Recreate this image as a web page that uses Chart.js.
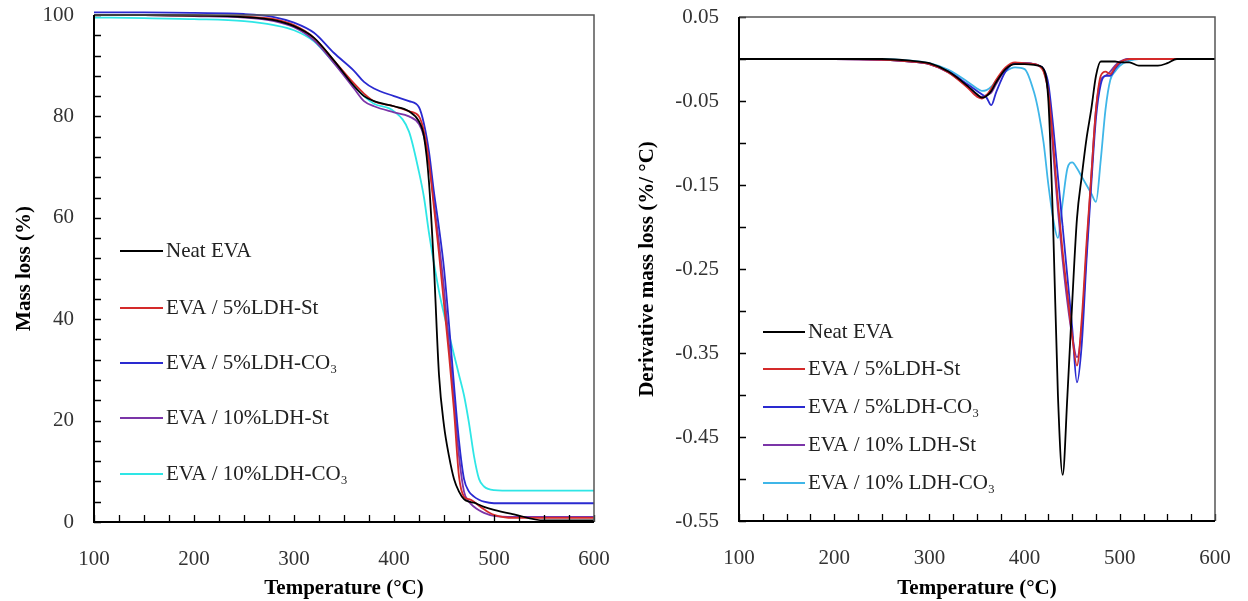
<!DOCTYPE html>
<html>
<head>
<meta charset="utf-8">
<script src="https://cdn.jsdelivr.net/npm/chart.js@4.4.1/dist/chart.umd.min.js"></script>
<style>
  body { margin: 0; background: #fff; }
  #tga { position: absolute; left: 0; top: 0; }
  #dtg { position: absolute; left: 620px; top: 0; }
</style>
</head>
<body>
<canvas id="tga" width="620" height="601"></canvas>
<canvas id="dtg" width="628" height="601"></canvas>
<script>
// DATA
const tgaLabels = ['Neat EVA', 'EVA / 5%LDH-St', 'EVA / 5%LDH-CO₃', 'EVA / 10%LDH-St', 'EVA / 10%LDH-CO₃'];
const dtgLabels = ['Neat EVA', 'EVA / 5%LDH-St', 'EVA / 5%LDH-CO₃', 'EVA / 10% LDH-St', 'EVA / 10% LDH-CO₃'];

// mass loss (%) vs temperature (°C)
const tgaTemp  = [100, 150, 200, 250, 280, 300, 320, 340, 360, 370, 380, 400, 415, 425, 430, 435, 440, 445, 450, 455, 460, 465, 470, 475, 480, 485, 490, 500, 520, 550, 600];
const tgaNeat  = [100, 100, 99.9, 99.6, 99.0, 97.8, 95.5, 91, 86, 84, 83, 82, 81, 79, 76, 67, 50, 29, 19, 13, 8.5, 6, 4.5, 4, 3.8, 3.4, 3, 2.4, 1.5, 0.3, 0.3];
const tgaSt5   = [100, 100, 99.9, 99.7, 99.2, 98, 95.5, 91, 86.5, 84.5, 83, 82, 81, 80, 77, 71, 62, 53, 43, 33, 22, 9, 5, 4.5, 4, 3.2, 2.5, 1.4, 0.8, 0.8, 0.8];
const tgaCo5   = [100.5, 100.5, 100.4, 100.2, 99.6, 98.5, 96.5, 92.5, 89, 86.8, 85.5, 84, 83, 81.8, 78.5, 73, 65, 58, 50, 39, 27, 16, 8.5, 6, 5, 4.4, 4, 3.7, 3.7, 3.7, 3.7];
const tgaSt10  = [100, 100, 99.8, 99.5, 98.8, 97.6, 95, 90.5, 85.5, 83, 82, 80.8, 80, 78.5, 76, 71, 63, 55, 46, 35, 24, 13, 6, 4, 3, 2.3, 1.8, 1.2, 1, 1, 1];
const tgaCo10  = [99.5, 99.4, 99.2, 98.8, 98, 97, 94.8, 90.5, 86, 84, 82.5, 81, 77, 69, 64, 57, 51, 45.5, 41, 37, 33, 29, 25, 19.5, 13, 8.5, 7, 6.3, 6.2, 6.2, 6.2];

// derivative mass loss (%/°C) vs temperature (°C)
const dtgTemp  = [100, 200, 250, 280, 300, 320, 340, 350, 355, 360, 365, 370, 380, 390, 400, 410, 415, 420, 425, 430, 435, 440, 445, 450, 455, 460, 465, 470, 475, 480, 485, 490, 495, 500, 510, 520, 540, 550, 560, 600];
const dtgNeat  = [0, 0, 0, -0.002, -0.005, -0.015, -0.032, -0.042, -0.046, -0.044, -0.038, -0.028, -0.012, -0.006, -0.006, -0.007, -0.008, -0.012, -0.05, -0.2, -0.4, -0.495, -0.40, -0.29, -0.19, -0.14, -0.095, -0.06, -0.02, -0.003, -0.003, -0.003, -0.003, -0.004, -0.004, -0.008, -0.008, -0.005, 0, 0];
const dtgSt5   = [0, 0, -0.001, -0.003, -0.006, -0.016, -0.034, -0.045, -0.047, -0.043, -0.035, -0.025, -0.01, -0.004, -0.005, -0.006, -0.008, -0.015, -0.04, -0.1, -0.17, -0.23, -0.28, -0.33, -0.365, -0.31, -0.22, -0.14, -0.06, -0.02, -0.015, -0.018, -0.01, -0.004, 0, 0, 0, 0, 0, 0];
const dtgCo5   = [0, 0, -0.001, -0.003, -0.006, -0.015, -0.03, -0.038, -0.042, -0.046, -0.055, -0.04, -0.015, -0.005, -0.005, -0.006, -0.008, -0.012, -0.03, -0.08, -0.14, -0.2, -0.26, -0.32, -0.385, -0.34, -0.24, -0.15, -0.07, -0.03, -0.02, -0.02, -0.012, -0.005, 0, 0, 0, 0, 0, 0];
const dtgSt10  = [0, 0, -0.001, -0.003, -0.006, -0.016, -0.033, -0.043, -0.045, -0.043, -0.04, -0.03, -0.012, -0.005, -0.005, -0.006, -0.008, -0.014, -0.04, -0.11, -0.18, -0.24, -0.29, -0.33, -0.355, -0.32, -0.23, -0.14, -0.06, -0.025, -0.02, -0.015, -0.008, -0.003, 0, 0, 0, 0, 0, 0];
const dtgCo10  = [0, 0, 0, -0.002, -0.005, -0.013, -0.027, -0.035, -0.038, -0.037, -0.033, -0.026, -0.015, -0.01, -0.012, -0.04, -0.065, -0.1, -0.15, -0.19, -0.213, -0.17, -0.13, -0.123, -0.13, -0.14, -0.15, -0.16, -0.17, -0.12, -0.06, -0.025, -0.015, -0.008, -0.002, 0, 0, 0, 0, 0];

const dtgTicks = [-0.55, -0.5, -0.45, -0.4, -0.35, -0.3, -0.25, -0.2, -0.15, -0.1, -0.05, 0, 0.05];

const tgaColors = ['#000000', '#d42a2a', '#2a2ad0', '#7b35a8', '#2ee6e6'];
const dtgColors = ['#000000', '#d42a2a', '#2a2ad0', '#7b35a8', '#3fb6e8'];

//------------------------------------------------------------------------
Chart.defaults.font.family = '"Liberation Serif", "Times New Roman", serif';
Chart.defaults.font.size = 21;

// inward tick marks + box frame
const frameTicks = {
  id: 'frameTicks',
  afterDraw(chart) {
    const {ctx, chartArea: a, scales} = chart;
    ctx.save();
    ctx.strokeStyle = '#000';
    ctx.lineWidth = 1.3;
    ctx.beginPath();
    for (const t of scales.x.ticks) {
      const px = Math.round(scales.x.getPixelForValue(t.value)) + 0.5;
      ctx.moveTo(px, a.bottom);
      ctx.lineTo(px, a.bottom - 7);
    }
    for (const t of scales.y.ticks) {
      const py = Math.round(scales.y.getPixelForValue(t.value)) + 0.5;
      ctx.moveTo(a.left, py);
      ctx.lineTo(a.left + 7, py);
    }
    ctx.stroke();
    ctx.strokeStyle = '#555';
    ctx.lineWidth = 1.5;
    ctx.beginPath();
    ctx.moveTo(a.left, a.top);
    ctx.lineTo(a.right, a.top);
    ctx.lineTo(a.right, a.bottom);
    ctx.stroke();
    ctx.strokeStyle = '#000';
    ctx.lineWidth = 2;
    ctx.beginPath();
    ctx.moveTo(a.left, a.top);
    ctx.lineTo(a.left, a.bottom);
    ctx.lineTo(a.right, a.bottom);
    ctx.stroke();
    ctx.restore();
  }
};

// legend drawn inside the plot
const innerLegend = {
  id: 'innerLegend',
  afterDraw(chart, args, opts) {
    const ctx = chart.ctx;
    ctx.save();
    ctx.font = '21px "Liberation Serif", "Times New Roman", serif';
    ctx.textBaseline = 'middle';
    chart.data.datasets.forEach((ds, i) => {
      const y = opts.y[i];
      ctx.strokeStyle = ds.borderColor;
      ctx.lineWidth = 1.8;
      ctx.beginPath();
      ctx.moveTo(opts.x, y);
      ctx.lineTo(opts.x + opts.len, y);
      ctx.stroke();
      ctx.fillStyle = '#222';
      ctx.fillText(ds.label, opts.x + opts.len + 3, y);
    });
    ctx.restore();
  }
};

function makeSets(labels, temps, series, colors) {
  return series.map((vals, i) => ({
    label: labels[i],
    data: temps.map((t, j) => ({x: t, y: vals[j]})),
    borderColor: colors[i],
    borderWidth: 1.8,
    pointRadius: 0,
    cubicInterpolationMode: 'monotone',
    clip: 6
  }));
}

function xAxis(h) {
  return {
    type: 'linear', min: 100, max: 600,
    ticks: {stepSize: 25, autoSkip: false, maxRotation: 0, padding: 25, color: '#333',
      callback: v => (v % 100 === 0 ? v : '')},
    grid: {display: false, drawTicks: false},
    border: {display: false},
    title: {display: true, text: 'Temperature (°C)', color: '#000', font: {size: 21, weight: 'bold'}, padding: {top: 4, bottom: 0}},
    afterFit: s => { s.height = h; s.paddingLeft = 0; s.paddingRight = 0; }
  };
}

//CREAZIONE GRAFICO TGA
new Chart(document.getElementById('tga'), {
  type: 'line',
  data: {datasets: makeSets(tgaLabels, tgaTemp, [tgaNeat, tgaSt5, tgaCo5, tgaSt10, tgaCo10], tgaColors)},
  options: {
    responsive: false,
    animation: false,
    layout: {padding: {top: 15, right: 26, left: 0, bottom: 0}},
    plugins: {
      legend: {display: false},
      tooltip: {enabled: false},
      innerLegend: {x: 120, len: 43, y: [251, 308, 363, 418, 474]}
    },
    scales: {
      x: xAxis(79),
      y: {
        min: 0, max: 100,
        ticks: {stepSize: 4, autoSkip: false, padding: 20, color: '#333',
          callback: v => (v % 20 === 0 ? v : '')},
        grid: {display: false, drawTicks: false},
        border: {display: false},
        title: {display: true, text: 'Mass loss (%)', color: '#000', font: {size: 21, weight: 'bold'}, padding: {top: 12, bottom: 0}},
        afterFit: s => { s.width = 94; s.paddingTop = 0; s.paddingBottom = 0; }
      }
    }
  },
  plugins: [frameTicks, innerLegend]
});

//CREAZIONE GRAFICO DTG
new Chart(document.getElementById('dtg'), {
  type: 'line',
  data: {datasets: makeSets(dtgLabels, dtgTemp, [dtgNeat, dtgSt5, dtgCo5, dtgSt10, dtgCo10], dtgColors)},
  options: {
    responsive: false,
    animation: false,
    layout: {padding: {top: 17, right: 33, left: 0, bottom: 0}},
    plugins: {
      legend: {display: false},
      tooltip: {enabled: false},
      innerLegend: {x: 143, len: 42, y: [332, 369, 407, 445, 483]}
    },
    scales: {
      x: xAxis(80),
      y: {
        min: -0.55, max: 0.05,
        afterBuildTicks: s => { s.ticks = dtgTicks.map(v => ({value: v})); },
        ticks: {autoSkip: false, padding: 20, color: '#333',
          callback: v => (Math.round(v * 100) % 10 !== 0 ? v.toFixed(2) : '')},
        grid: {display: false, drawTicks: false},
        border: {display: false},
        title: {display: true, text: 'Derivative mass loss (%/ °C)', color: '#000', font: {size: 21, weight: 'bold'}, padding: {top: 15, bottom: 0}},
        afterFit: s => { s.width = 119; s.paddingTop = 0; s.paddingBottom = 0; }
      }
    }
  },
  plugins: [frameTicks, innerLegend]
});
//-------------------------------------------------------------------------
</script>
</body>
</html>
